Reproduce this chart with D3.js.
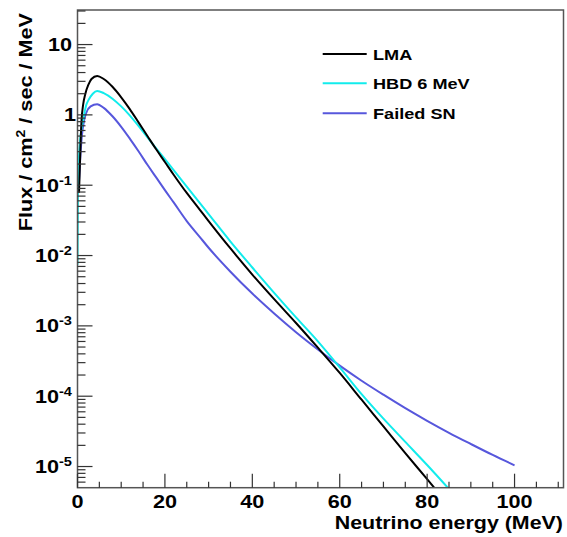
<!DOCTYPE html>
<head>
  <style>
    body { margin: 0; background: #fff; }
    text { font-family: "Liberation Sans", Arial, sans-serif; font-weight: bold; fill: #000; }
    .curve { fill: none; stroke-width: 2; stroke-linejoin: round; }
  </style>
</head>

<body>
  <script src="https://cdn.jsdelivr.net/npm/d3@7"></script>

  <script>
    const container_w = 567;
    const container_h = 537;
    // plot frame in pixels
    const frame = { left: 77.5, right: 563.5, top: 10, bottom: 487.7 };
    // the reference font is a bit wider than Liberation Sans, so text gets stretched sideways
    const textStretch = 1.17;

    // ---- data (energy in MeV, flux per cm2/sec/MeV) ----
    const lmaEnergy = [0.35, 0.6, 0.9, 1.3, 1.8, 2.5, 3.2, 4.5, 6, 8, 10, 12, 14, 16, 18, 20, 22, 25, 28, 30,
                       35, 40, 45, 50, 55, 60, 65, 70, 75, 80, 82];
    const lmaFlux = [0.078, 0.25, 0.79, 1.41, 2.0, 2.69, 3.24, 3.58, 3.24, 2.51, 1.78, 1.20, 0.776, 0.501, 0.324,
                     0.214, 0.141, 0.0776, 0.0447, 0.0309, 0.0126, 5.37e-3, 2.40e-3, 1.10e-3, 4.90e-4, 2.14e-4,
                     8.91e-5, 3.72e-5, 1.55e-5, 6.61e-6, 4.68e-6];

    const hbdEnergy = [0, 0.1, 0.3, 0.6, 1.0, 1.5, 2, 2.5, 3.5, 4.5, 6, 8, 10, 12, 14, 16, 18, 20, 22, 25, 28, 30,
                       35, 40, 45, 50, 55, 60, 65, 70, 75, 80, 85];
    const hbdFlux = [0.0074, 0.079, 0.224, 0.437, 0.676, 1.0, 1.38, 1.62, 2.0, 2.19, 2.04, 1.70, 1.32, 0.977,
                     0.692, 0.479, 0.335, 0.234, 0.164, 0.0955, 0.0556, 0.0389, 0.0158, 6.76e-3, 2.95e-3,
                     1.32e-3, 6.03e-4, 2.57e-4, 1.07e-4, 4.79e-5, 2.24e-5, 1.05e-5, 4.79e-6];

    const failedEnergy = [0.3, 0.6, 1.0, 1.5, 2, 3, 4.5, 6, 8, 10, 12, 14, 16, 18, 20, 22, 25, 28, 30, 35, 40, 45,
                          50, 55, 60, 65, 70, 75, 80, 85, 90, 95, 100];
    const failedFlux = [0.1, 0.224, 0.501, 0.832, 1.07, 1.32, 1.42, 1.26, 0.955, 0.676, 0.457, 0.302, 0.195,
                        0.129, 0.0851, 0.0569, 0.0309, 0.0183, 0.0129, 5.89e-3, 2.88e-3, 1.50e-3, 8.13e-4,
                        4.62e-4, 2.72e-4, 1.66e-4, 1.05e-4, 6.76e-5, 4.47e-5, 3.02e-5, 2.09e-5, 1.46e-5, 1.04e-5];

    const seriesNames = ["LMA", "HBD 6 MeV", "Failed SN"];
    const seriesColors = ["#000000", "#12ecec", "#5757dc"];

    const xTicks = [0, 20, 40, 60, 80, 100];
    const yTickExp = [1, 0, -1, -2, -3, -4, -5];

    // ---- scales ----
    var xScale = d3.scaleLinear().domain([0, 111.2]).range([frame.left, frame.right]);
    var yScale = d3.scaleLog().domain([5e-6, 31]).range([frame.bottom, frame.top]);

    var svg = d3.select("body")
      .append("svg")
      .attr("width", container_w)
      .attr("height", container_h);

    svg.append("defs").append("clipPath").attr("id", "plotclip")
      .append("rect")
      .attr("x", frame.left).attr("y", frame.top)
      .attr("width", frame.right - frame.left)
      .attr("height", frame.bottom - frame.top);

    // text placed at (x, y), stretched along its own direction
    function addText(parent, x, y, size, anchor, rot) {
      return parent.append("text")
        .attr("text-anchor", anchor)
        .attr("transform", `translate(${x},${y})` + (rot ? ` rotate(${rot})` : "") + ` scale(${textStretch},1)`)
        .style("font-size", size + "px");
    }

    // ---- curves ----
    const series = [
      { name: seriesNames[0], color: seriesColors[0], e: lmaEnergy, f: lmaFlux },
      { name: seriesNames[1], color: seriesColors[1], e: hbdEnergy, f: hbdFlux },
      { name: seriesNames[2], color: seriesColors[2], e: failedEnergy, f: failedFlux }
    ];

    var line = d3.line()
      .x(d => xScale(d[0]))
      .y(d => yScale(d[1]))
      .curve(d3.curveMonotoneX);

    svg.append("g")
      .attr("clip-path", "url(#plotclip)")
      .selectAll("path")
      .data(series.slice().reverse())
      .enter()
      .append("path")
      .classed("curve", true)
      .attr("stroke", d => d.color)
      .attr("d", d => line(d3.zip(d.e, d.f)));

    // ---- frame ----
    svg.append("rect")
      .attr("x", frame.left).attr("y", frame.top)
      .attr("width", frame.right - frame.left)
      .attr("height", frame.bottom - frame.top)
      .attr("fill", "none")
      .attr("stroke", "#555")
      .attr("stroke-width", 1.5);

    // ---- x axis: major ticks every 20, minor every 5 ----
    var xMinor = d3.range(0, 111, 5);
    svg.append("g")
      .attr("id", "x_axis")
      .selectAll("line")
      .data(xMinor)
      .enter()
      .append("line")
      .attr("x1", d => xScale(d)).attr("x2", d => xScale(d))
      .attr("y1", frame.bottom)
      .attr("y2", d => frame.bottom - (d % 20 === 0 ? 14 : 6))
      .attr("stroke", "#333")
      .attr("stroke-width", 1.2);

    var xLab = svg.append("g");
    xTicks.forEach(function (t) {
      addText(xLab, xScale(t), 508, 18.5, "middle").text(t);
    });

    addText(svg, 563, 529, 18.3, "end")
      .attr("id", "x_axis_label")
      .text("Neutrino energy (MeV)");

    // ---- y axis: log ticks ----
    var yMinor = [];
    for (let p = -6; p <= 1; p++) {
      for (let m = 1; m <= 9; m++) {
        let v = m * Math.pow(10, p);
        if (v >= 5e-6 && v <= 31) yMinor.push({ v: v, major: m === 1 });
      }
    }
    svg.append("g")
      .attr("id", "y_axis")
      .selectAll("line")
      .data(yMinor)
      .enter()
      .append("line")
      .attr("x1", frame.left)
      .attr("x2", d => frame.left + (d.major ? 15 : 8))
      .attr("y1", d => yScale(d.v)).attr("y2", d => yScale(d.v))
      .attr("stroke", "#333")
      .attr("stroke-width", 1.2);

    var yLab = svg.append("g");
    yTickExp.forEach(function (d) {
      var ty = yScale(Math.pow(10, d)) + 6.5;
      if (d === 0) { addText(yLab, 76, ty, 18.5, "end").text("1"); return; }
      var t = addText(yLab, 72, ty, 18.5, "end");
      t.append("tspan").text("10");
      if (d !== 1) t.append("tspan").attr("dy", -7).style("font-size", "12.5px").text(d);
    });

    var ytitle = addText(svg, 32, 13, 18.5, "end", -90).attr("id", "y_axis_label");
    ytitle.append("tspan").text("Flux / cm");
    ytitle.append("tspan").attr("dy", -7).style("font-size", "12px").text("2");
    ytitle.append("tspan").attr("dy", 7).text(" / sec / MeV");

    // ---- legend ----
    var legend = svg.append("g").attr("id", "legend");
    var legendY = [54, 83.3, 113.3];
    series.forEach(function (s, i) {
      legend.append("line")
        .attr("x1", 322.7).attr("x2", 366.7)
        .attr("y1", legendY[i]).attr("y2", legendY[i])
        .attr("stroke", s.color)
        .attr("stroke-width", 2);
      addText(legend, 373, legendY[i] + 5.5, 15.5, "start").text(s.name);
    });
  </script>
</body>
